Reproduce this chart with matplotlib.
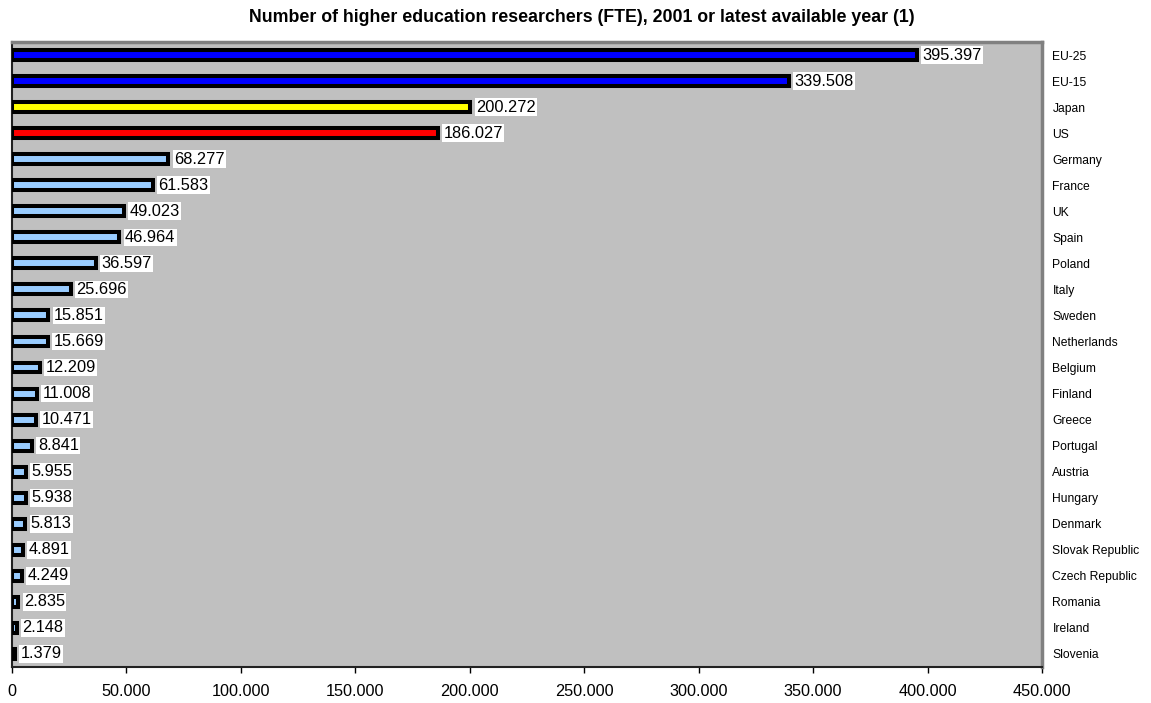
import matplotlib
matplotlib.use("Agg")
import matplotlib.pyplot as plt
from matplotlib.ticker import FuncFormatter

countries = ["EU-25", "EU-15", "Japan", "US", "Germany", "France", "UK", "Spain",
             "Poland", "Italy", "Sweden", "Netherlands", "Belgium", "Finland",
             "Greece", "Portugal", "Austria", "Hungary", "Denmark",
             "Slovak Republic", "Czech Republic", "Romania", "Ireland", "Slovenia"]
values = [395397, 339508, 200272, 186027, 68277, 61583, 49023, 46964,
          36597, 25696, 15851, 15669, 12209, 11008, 10471, 8841, 5955,
          5938, 5813, 4891, 4249, 2835, 2148, 1379]
bar_colors = ["#0000FF", "#0000FF", "#FFFF00", "#FF0000"] + ["#99CCFF"] * 20
xticks = [0, 50000, 100000, 150000, 200000, 250000, 300000, 350000, 400000, 450000]

plt.rcParams['font.family'] = ['Liberation Sans', 'DejaVu Sans']

def fmt(v):
    return f"{int(v):,}".replace(",", ".")

fig = plt.figure(figsize=(11.51, 7.03), dpi=100)
ax = fig.add_axes([12/1151, 36/703, (1042-12)/1151, 625/703])
ax.set_facecolor("#C0C0C0")

n = len(countries)
ys = list(range(n))
ax.barh(ys, values, height=0.38, color=bar_colors, edgecolor="black",
        linewidth=2.9, zorder=3)
for y, v in zip(ys, values):
    ax.annotate(fmt(v), xy=(v, y), xytext=(4, 0), textcoords="offset points",
                ha="left", va="center", fontsize=11.8, zorder=4,
                bbox=dict(boxstyle="square,pad=0.08", fc="white", ec="none"))

ax.set_xlim(0, 450000)
ax.set_ylim(n - 0.5, -0.5)
ax.set_xticks(xticks)
ax.xaxis.set_major_formatter(FuncFormatter(lambda v, p: fmt(v)))
ax.tick_params(axis="x", direction="out", length=4, width=1, labelsize=11.7, pad=8.5)

ax.set_yticks(ys)
ax.set_yticklabels(countries)
ax.yaxis.tick_right()
ax.tick_params(axis="y", length=0, labelsize=8.7, pad=7.5)

for s in ["left", "bottom"]:
    ax.spines[s].set_color("#222222")
    ax.spines[s].set_linewidth(1.5)
for s in ["top", "right"]:
    ax.spines[s].set_color("#808080")
    ax.spines[s].set_linewidth(2.5)

fig.text(0.5056, 1 - 17/703,
         "Number of higher education researchers (FTE), 2001 or latest available year (1)",
         ha="center", va="center", fontsize=12.8, fontweight="bold")

fig.savefig("out.png", dpi=100, facecolor="white")
